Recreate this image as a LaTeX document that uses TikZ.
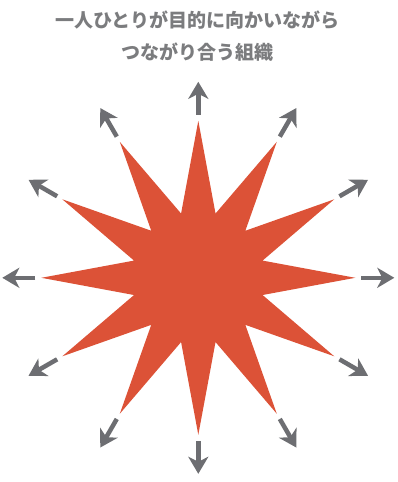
\documentclass[tikz,border=0pt]{standalone}
\usepackage{fontspec}
\newfontfamily\jpfont{Noto Sans CJK JP}
\usepackage{tikz}
\usetikzlibrary{arrows.meta, shapes.geometric}

\definecolor{burst}{HTML}{DC5237}
\definecolor{arrowgray}{HTML}{6D6E72}
\definecolor{titlegray}{HTML}{7B7C7E}

\begin{document}
\begin{tikzpicture}[x=1pt, y=1pt,
                    burststar/.style={star, star points=12, star point ratio=2.36, fill=burst, draw=none, inner sep=0pt, minimum size=314pt},
                    outarrow/.style={-{Stealth[length=17pt, width=20pt, inset=5pt]}, line width=4.5pt, arrowgray},
                    heading/.style={align=center, text=titlegray, font=\jpfont\bfseries\fontsize{19pt}{32pt}\selectfont}]

            \useasboundingbox (-198.3,-204.2) rectangle (198.7,277.8);

            \node[heading] (title) at (-1,241.8) {一人ひとりが目的に向かいながら\\つながり合う組織};

            \node[burststar] (core) at (0,0) {};

            \coordinate (s0)  at (0:163);   \coordinate (e0)  at (0:196);
            \coordinate (s1)  at (30:163);  \coordinate (e1)  at (30:196);
            \coordinate (s2)  at (60:163);  \coordinate (e2)  at (60:196);
            \coordinate (s3)  at (90:163);  \coordinate (e3)  at (90:196);
            \coordinate (s4)  at (120:163); \coordinate (e4)  at (120:196);
            \coordinate (s5)  at (150:163); \coordinate (e5)  at (150:196);
            \coordinate (s6)  at (180:163); \coordinate (e6)  at (180:196);
            \coordinate (s7)  at (210:163); \coordinate (e7)  at (210:196);
            \coordinate (s8)  at (240:163); \coordinate (e8)  at (240:196);
            \coordinate (s9)  at (270:163); \coordinate (e9)  at (270:196);
            \coordinate (s10) at (300:163); \coordinate (e10) at (300:196);
            \coordinate (s11) at (330:163); \coordinate (e11) at (330:196);

            \draw[outarrow] (s0) -- (e0);
            \draw[outarrow] (s1) -- (e1);
            \draw[outarrow] (s2) -- (e2);
            \draw[outarrow] (s3) -- (e3);
            \draw[outarrow] (s4) -- (e4);
            \draw[outarrow] (s5) -- (e5);
            \draw[outarrow] (s6) -- (e6);
            \draw[outarrow] (s7) -- (e7);
            \draw[outarrow] (s8) -- (e8);
            \draw[outarrow] (s9) -- (e9);
            \draw[outarrow] (s10) -- (e10);
            \draw[outarrow] (s11) -- (e11);
        \end{tikzpicture}
\end{document}
